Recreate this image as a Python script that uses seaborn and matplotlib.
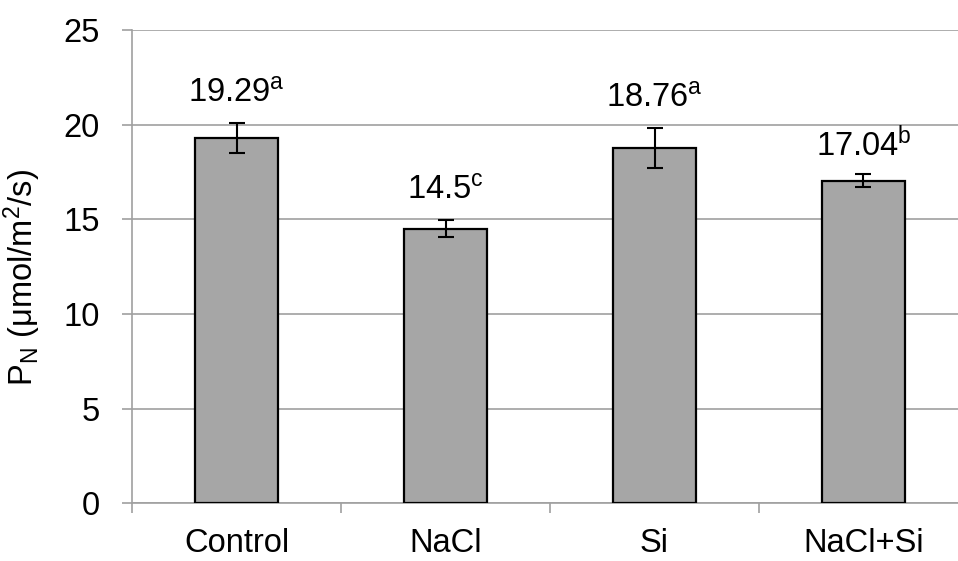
import matplotlib
matplotlib.use("Agg")
import matplotlib.pyplot as plt
import seaborn as sns
import numpy as np
import pandas as pd

categories = ["Control", "NaCl", "Si", "NaCl+Si"]
values = [19.29, 14.5, 18.76, 17.04]
errors = [0.79, 0.44, 1.05, 0.35]
letters = ["a", "c", "a", "b"]
value_labels = ["19.29", "14.5", "18.76", "17.04"]
yticks = [0, 5, 10, 15, 20, 25]

sns.set_theme(style="white")
plt.rcParams["font.family"] = ["Liberation Sans", "DejaVu Sans"]
plt.rcParams["mathtext.fontset"] = "custom"
plt.rcParams["mathtext.rm"] = "Liberation Sans"
plt.rcParams["mathtext.it"] = "Liberation Sans:italic"
plt.rcParams["mathtext.bf"] = "Liberation Sans:bold"
plt.rcParams["text.color"] = "black"
plt.rcParams["axes.labelcolor"] = "black"
plt.rcParams["xtick.color"] = "black"
plt.rcParams["ytick.color"] = "black"

FS = 23.5

fig = plt.figure(figsize=(9.58, 5.61), dpi=100)
ax = fig.add_axes([132 / 958, 1 - 503.3 / 561, 836 / 958, 473.3 / 561])

df = pd.DataFrame({"cat": categories, "val": values})
sns.barplot(data=df, x="cat", y="val", color="#a6a6a6", edgecolor="black",
            linewidth=1.6, width=0.4, errorbar=None, ax=ax, saturation=1, zorder=3)

xs = np.arange(len(categories))
ax.errorbar(xs, values, yerr=errors, fmt="none", ecolor="black",
            elinewidth=1.5, capsize=6, capthick=1.5, zorder=4)

for x, v, e, lab, let in zip(xs, values, errors, value_labels, letters):
    ax.annotate(f"{lab}$^{{\\mathrm{{{let}}}}}$", xy=(x, v + e), xytext=(0, 29),
                textcoords="offset pixels", ha="center", va="center",
                fontsize=FS, color="black", zorder=5)

ax.set_xlim(-0.5, 3.5)
ax.set_ylim(0, 25)
ax.set_yticks(yticks)
ax.set_yticklabels([str(t) for t in yticks], fontsize=FS)
ax.set_xticks(xs)
ax.set_xticklabels(categories, fontsize=FS)
ax.set_xticks(np.arange(-0.5, 4.0, 1.0), minor=True)
ax.tick_params(axis="x", which="major", length=0, pad=18, labelcolor="black")
ax.tick_params(axis="x", which="minor", length=7, width=1.2, color="#a0a0a0",
               direction="out", bottom=True)
ax.tick_params(axis="y", which="major", length=7, width=1.2, color="#a0a0a0",
               direction="out", left=True, pad=16, labelcolor="black")

ax.yaxis.grid(True, color="#a0a0a0", linewidth=1.2, zorder=0)
ax.set_axisbelow(True)
for s in ["top", "right"]:
    ax.spines[s].set_visible(False)
for s in ["left", "bottom"]:
    ax.spines[s].set_color("#a0a0a0")
    ax.spines[s].set_linewidth(1.2)

ax.set_xlabel("")
ax.set_ylabel("P$_{\\mathrm{N}}$ (μmol/m$^{2}$/s)", fontsize=FS, color="black")
ax.yaxis.set_label_coords((43 - 132) / 836, (503.3 - 277) / 473.3)

fig.savefig("out.png", dpi=100)
